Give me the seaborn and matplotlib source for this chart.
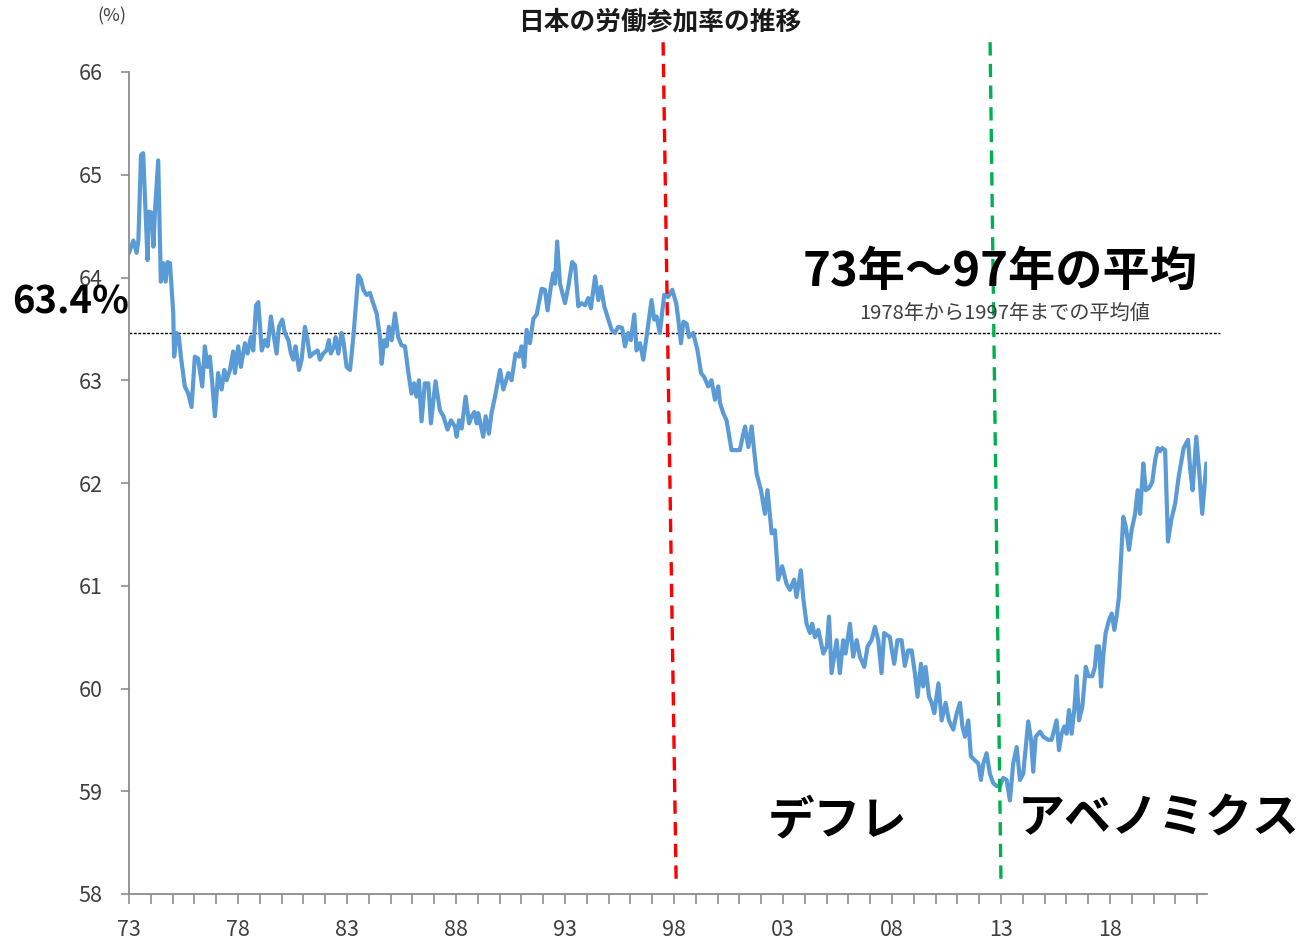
import matplotlib
matplotlib.use("Agg")
import matplotlib.pyplot as plt
import seaborn as sns
import pandas as pd

# ---------------- data ----------------
years = [
    1973.00, 1973.20, 1973.35, 1973.43, 1973.55, 1973.65, 1973.85, 1973.91, 1974.04, 1974.12,
    1974.19, 1974.34, 1974.46, 1974.57, 1974.68, 1974.77, 1974.88, 1975.03, 1975.07, 1975.19,
    1975.29, 1975.38, 1975.56, 1975.72, 1975.87, 1976.02, 1976.17, 1976.36, 1976.48, 1976.60,
    1976.71, 1976.82, 1976.94, 1977.09, 1977.25, 1977.37, 1977.48, 1977.63, 1977.78, 1977.86,
    1978.01, 1978.13, 1978.32, 1978.44, 1978.59, 1978.70, 1978.83, 1978.93, 1979.09, 1979.24,
    1979.36, 1979.51, 1979.62, 1979.77, 1979.88, 1980.03, 1980.15, 1980.31, 1980.43, 1980.54,
    1980.64, 1980.80, 1980.92, 1981.07, 1981.19, 1981.30, 1981.45, 1981.65, 1981.76, 1981.91,
    1982.06, 1982.17, 1982.26, 1982.41, 1982.48, 1982.60, 1982.75, 1982.83, 1982.98, 1983.14,
    1983.29, 1983.52, 1983.64, 1983.75, 1983.90, 1984.05, 1984.20, 1984.36, 1984.51, 1984.59,
    1984.71, 1984.82, 1984.92, 1985.05, 1985.20,
    1985.35, 1985.50, 1985.66, 1985.81, 1985.96, 1986.08, 1986.19, 1986.30, 1986.42, 1986.57,
    1986.73, 1986.85, 1987.06, 1987.26, 1987.42, 1987.61, 1987.77, 1987.95, 1988.03, 1988.14,
    1988.26, 1988.44, 1988.60, 1988.72, 1988.84, 1988.95, 1989.02, 1989.25, 1989.36, 1989.51,
    1989.63, 1989.79, 1990.02, 1990.17, 1990.40, 1990.55, 1990.73, 1990.89, 1991.01, 1991.13,
    1991.24, 1991.39, 1991.55, 1991.70, 1991.93, 1992.08, 1992.20, 1992.35, 1992.46, 1992.54,
    1992.64, 1992.77, 1993.00, 1993.15, 1993.33, 1993.46, 1993.61, 1993.76, 1993.92, 1994.07,
    1994.19, 1994.38, 1994.53, 1994.65, 1994.80, 1994.99, 1995.14, 1995.29, 1995.44, 1995.62,
    1995.75, 1995.90, 1996.02, 1996.18, 1996.28, 1996.44, 1996.59, 1996.74, 1996.97, 1997.09,
    1997.20, 1997.35, 1997.55, 1997.73, 1997.92,
    1998.10, 1998.20, 1998.32, 1998.43, 1998.58, 1998.69, 1998.88, 1999.08, 1999.24, 1999.39,
    1999.57, 1999.72, 1999.88, 2000.03, 2000.11, 2000.26, 2000.41, 2000.64, 2000.87, 2001.02,
    2001.18, 2001.26, 2001.41, 2001.56, 2001.79, 2001.99, 2002.17, 2002.29, 2002.48, 2002.63,
    2002.78, 2002.96, 2003.16, 2003.32, 2003.51, 2003.62, 2003.82, 2003.93, 2004.08, 2004.24,
    2004.34, 2004.47, 2004.62, 2004.85, 2005.01, 2005.11, 2005.23, 2005.46, 2005.61, 2005.76,
    2005.87, 2006.07, 2006.22, 2006.38, 2006.53, 2006.73, 2006.88, 2007.06, 2007.22, 2007.37,
    2007.52, 2007.64, 2007.90, 2008.10, 2008.25, 2008.44, 2008.59, 2008.74, 2008.90, 2009.05,
    2009.17, 2009.33, 2009.43, 2009.54, 2009.70, 2009.82, 2009.94, 2010.13, 2010.28, 2010.46,
    2010.61, 2010.81, 2010.97, 2011.12, 2011.23, 2011.35, 2011.50, 2011.62, 2011.81, 2011.96,
    2012.08, 2012.19, 2012.34, 2012.49, 2012.64, 2012.80,
    2012.95, 2013.10, 2013.26, 2013.41, 2013.56, 2013.72, 2013.87, 2014.02, 2014.25, 2014.38,
    2014.48, 2014.59, 2014.79, 2014.94, 2015.17, 2015.32, 2015.44, 2015.55, 2015.66, 2015.78,
    2015.90, 2016.01, 2016.12, 2016.24, 2016.36, 2016.47, 2016.58, 2016.73, 2016.89, 2017.01,
    2017.19, 2017.31, 2017.39, 2017.50, 2017.59, 2017.70, 2017.80, 2017.96, 2018.08, 2018.20,
    2018.30, 2018.41, 2018.50, 2018.61, 2018.72, 2018.87, 2018.99, 2019.15, 2019.27, 2019.38,
    2019.53, 2019.64, 2019.79, 2019.94, 2020.07, 2020.19, 2020.30, 2020.40, 2020.53, 2020.66,
    2020.81, 2020.99, 2021.15, 2021.38, 2021.58, 2021.68, 2021.79, 2021.96, 2022.11, 2022.23,
    2022.42,
]

participation_rate = [
    64.24, 64.36, 64.24, 64.36, 65.19, 65.21, 64.17, 64.64, 64.63, 64.30,
    64.64, 65.14, 63.96, 64.14, 63.96, 64.15, 64.14, 63.65, 63.23, 63.46,
    63.42, 63.23, 62.94, 62.87, 62.74, 63.23, 63.21, 62.94, 63.33, 63.13,
    63.23, 62.97, 62.65, 63.07, 62.91, 63.10, 63.00, 63.10, 63.28, 63.07,
    63.33, 63.13, 63.36, 63.26, 63.42, 63.29, 63.73, 63.76, 63.29, 63.39,
    63.33, 63.62, 63.46, 63.26, 63.52, 63.59, 63.46, 63.39, 63.26, 63.20,
    63.33, 63.10, 63.20, 63.52, 63.39, 63.23, 63.26, 63.29, 63.20, 63.26,
    63.29, 63.39, 63.26, 63.33, 63.42, 63.26, 63.46, 63.39, 63.13, 63.10,
    63.42, 64.02, 63.98, 63.88, 63.83, 63.85, 63.75, 63.65, 63.42, 63.16,
    63.39, 63.33, 63.52, 63.39, 63.65,
    63.42, 63.34, 63.33, 63.08, 62.87, 62.97, 62.84, 63.00, 62.60, 62.97,
    62.97, 62.58, 62.99, 62.71, 62.65, 62.52, 62.61, 62.55, 62.45, 62.61,
    62.53, 62.84, 62.58, 62.65, 62.69, 62.58, 62.68, 62.45, 62.65, 62.48,
    62.68, 62.84, 63.10, 62.91, 63.07, 63.00, 63.26, 63.23, 63.33, 63.13,
    63.49, 63.36, 63.60, 63.64, 63.89, 63.88, 63.68, 63.91, 64.04, 63.94,
    64.35, 63.94, 63.75, 63.91, 64.15, 64.12, 63.72, 63.75, 63.73, 63.80,
    63.70, 64.01, 63.78, 63.91, 63.72, 63.59, 63.49, 63.46, 63.52, 63.51,
    63.33, 63.46, 63.39, 63.64, 63.29, 63.36, 63.20, 63.42, 63.78, 63.59,
    63.62, 63.46, 63.83, 63.81, 63.88,
    63.75, 63.59, 63.36, 63.57, 63.55, 63.42, 63.46, 63.29, 63.07, 63.03,
    62.94, 63.00, 62.81, 62.94, 62.78, 62.68, 62.61, 62.32, 62.32, 62.32,
    62.48, 62.55, 62.35, 62.55, 62.09, 61.93, 61.70, 61.93, 61.51, 61.54,
    61.06, 61.19, 61.02, 60.96, 61.06, 60.89, 61.15, 60.88, 60.63, 60.54,
    60.63, 60.50, 60.57, 60.34, 60.41, 60.70, 60.15, 60.47, 60.15, 60.47,
    60.34, 60.63, 60.31, 60.47, 60.31, 60.21, 60.41, 60.47, 60.60, 60.47,
    60.15, 60.54, 60.50, 60.24, 60.47, 60.47, 60.22, 60.37, 60.37, 60.15,
    59.92, 60.24, 60.02, 60.21, 59.92, 59.86, 59.76, 60.05, 59.69, 59.86,
    59.69, 59.60, 59.76, 59.86, 59.63, 59.53, 59.69, 59.34, 59.30, 59.27,
    59.11, 59.27, 59.37, 59.17, 59.08, 59.05,
    59.05, 59.13, 59.11, 58.91, 59.27, 59.43, 59.11, 59.17, 59.68, 59.50,
    59.19, 59.53, 59.58, 59.53, 59.50, 59.50, 59.60, 59.69, 59.40, 59.56,
    59.63, 59.56, 59.79, 59.56, 59.79, 60.12, 59.69, 59.82, 60.21, 60.12,
    60.12, 60.21, 60.41, 60.41, 60.02, 60.34, 60.54, 60.67, 60.73, 60.57,
    60.70, 60.89, 61.25, 61.67, 61.58, 61.35, 61.54, 61.70, 61.93, 61.70,
    62.19, 61.93, 61.95, 62.01, 62.22, 62.34, 62.31, 62.34, 62.32, 61.43,
    61.64, 61.80, 62.06, 62.34, 62.42, 62.13, 61.93, 62.45, 62.06, 61.70,
    62.19,
]

average_73_97 = 63.46
y_ticks = [58, 59, 60, 61, 62, 63, 64, 65, 66]
x_label_years = [1973, 1978, 1983, 1988, 1993, 1998, 2003, 2008, 2013, 2018]
x_tick_labels = ["73", "78", "83", "88", "93", "98", "03", "08", "13", "18"]
minor_years = list(range(1973, 2023))

title = "日本の労働参加率の推移"
unit_label = "(%)"
avg_label = "63.4%"
avg_title = "73年～97年の平均"
avg_note = "1978年から1997年までの平均値"
deflation_label = "デフレ"
abenomics_label = "アベノミクス"

# ---------------- style ----------------
sns.set_theme(style="white")
FAM = ["Noto Sans CJK JP", "DejaVu Sans"]
plt.rcParams["font.family"] = FAM

W, H = 1301, 944
fig = plt.figure(figsize=(W / 100, H / 100), dpi=100)
ax = fig.add_axes([129 / W, 1 - 894 / H, (1207 - 129) / W, (894 - 72) / H])

df = pd.DataFrame({"year": years, "rate": participation_rate})
sns.lineplot(data=df, x="year", y="rate", ax=ax, color="#5B9BD5",
             linewidth=3.0, estimator=None, sort=False, zorder=3)

ax.set_xlim(1973, 2022.45)
ax.set_ylim(58, 66)

# average dotted line (runs slightly past the axis end)
ax.axhline(average_73_97, xmin=0, xmax=1.012, color="black", lw=1.0,
           linestyle=(0, (2, 1.2)), clip_on=False, zorder=2)

# hand-drawn style vertical markers (slightly slanted, as in the original)
ax.plot([1997.5, 1998.1], [66.29, 58.1], color="#FF0000", lw=2.4,
        linestyle=(0, (4, 2.5)), clip_on=False, zorder=4)
ax.plot([2012.5, 2013.0], [66.29, 58.1], color="#00B050", lw=2.4,
        linestyle=(0, (4, 2.5)), clip_on=False, zorder=4)

# axes styling
for s in ["top", "right"]:
    ax.spines[s].set_visible(False)
for s in ["left", "bottom"]:
    ax.spines[s].set_color("#8C8C8C")
    ax.spines[s].set_linewidth(1.3)

ax.set_yticks(y_ticks)
ax.set_yticklabels([str(v) for v in y_ticks])
ax.set_xticks(x_label_years)
ax.set_xticklabels(x_tick_labels)
ax.set_xticks(minor_years, minor=True)
ax.tick_params(axis="y", which="major", direction="out", length=6, width=1.2,
               color="#8C8C8C", labelsize=15.5, labelcolor="#3F3F3F", pad=13, left=True)
ax.tick_params(axis="x", which="major", direction="out", length=7, width=1.2,
               color="#8C8C8C", labelsize=15.5, labelcolor="#3F3F3F", pad=11, bottom=True)
ax.tick_params(axis="x", which="minor", direction="out", length=7, width=1.2,
               color="#8C8C8C", bottom=True)
ax.set_xlabel("")
ax.set_ylabel("")
ax.grid(False)

# ---------------- texts ----------------
fig.text(660 / W, 1 - 22 / H, title, ha="center", va="center",
         fontsize=18.5, fontweight="bold", color="#1A1A1A")
fig.text(112 / W, 1 - 16 / H, unit_label, ha="center", va="center",
         fontsize=13, color="#404040")
fig.text(71 / W, 1 - 302 / H, avg_label, ha="center", va="center",
         fontsize=27.5, fontweight="bold", color="black")
fig.text(803 / W, 1 - 272 / H, avg_title, ha="left", va="center",
         fontsize=34, fontweight="bold", color="black")
fig.text(1005 / W, 1 - 313 / H, avg_note, ha="center", va="center",
         fontsize=14.5, color="#404040")
fig.text(768 / W, 1 - 820 / H, deflation_label, ha="left", va="center",
         fontsize=33.5, fontweight="bold", color="black")
fig.text(1018 / W, 1 - 818 / H, abenomics_label, ha="left", va="center",
         fontsize=33.8, fontweight="bold", color="black")

fig.savefig("out.png", dpi=100, facecolor="white")
